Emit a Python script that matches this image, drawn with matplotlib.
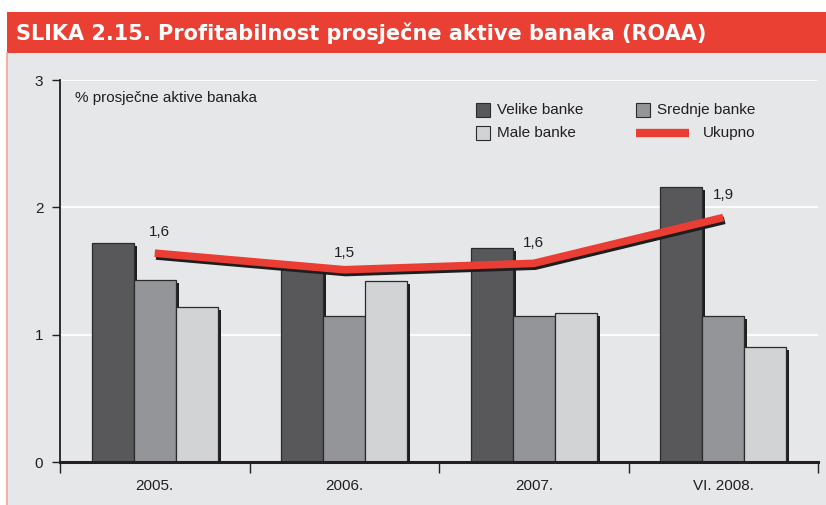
import matplotlib
matplotlib.use("Agg")
import matplotlib.pyplot as plt
import matplotlib.patheffects as pe
from matplotlib.patches import Rectangle
from matplotlib.lines import Line2D
import numpy as np

plt.rcParams['font.family'] = ['Liberation Sans', 'DejaVu Sans']

# ---- data ----
categories = ["2005.", "2006.", "2007.", "VI. 2008."]
velike = [1.72, 1.55, 1.68, 2.16]
srednje = [1.43, 1.15, 1.15, 1.15]
male = [1.22, 1.42, 1.17, 0.90]
ukupno = [1.64, 1.51, 1.56, 1.92]
ukupno_labels = ["1,6", "1,5", "1,6", "1,9"]
series_names = ["Velike banke", "Srednje banke", "Male banke", "Ukupno"]
y_ticks = [0, 1, 2, 3]

col_vel = "#58585a"
col_sred = "#939598"
col_male = "#d1d3d4"
col_red = "#ea3d33"
bg = "#e6e7e9"

W, H = 826, 505
fig = plt.figure(figsize=(W / 100, H / 100), dpi=100)
fig.patch.set_facecolor("white")

# background axes for panel + title bar
bgax = fig.add_axes([0, 0, 1, 1], zorder=-5)
bgax.set_xlim(0, W)
bgax.set_ylim(H, 0)
bgax.axis("off")
bgax.add_patch(Rectangle((7, 53), W - 7, H - 53, facecolor=bg, edgecolor="none"))
bgax.add_patch(Rectangle((7, 12), W - 7, 41, facecolor="#ea3f33", edgecolor="none"))
bgax.plot([7, 7], [53, H], color="#f2a49c", lw=1.2)
bgax.text(16, 33, "SLIKA 2.15. Profitabilnost prosječne aktive banaka (ROAA)",
          color="white", fontsize=15, fontweight="bold", va="center", ha="left",
          family=["DejaVu Sans"])

ax = fig.add_axes([60 / W, 1 - 462 / H, (818 - 60) / W, (462 - 80) / H], zorder=1)
ax.set_facecolor(bg)

x = np.arange(len(categories))
bw = 0.222
shadow = [pe.SimplePatchShadow(offset=(2.2, -2.2), shadow_rgbFace="#1e1e1e", alpha=1.0), pe.Normal()]
for vals, off, col in [(velike, -bw, col_vel), (srednje, 0, col_sred), (male, bw, col_male)]:
    bars = ax.bar(x + off, vals, width=bw, color=col, edgecolor="#2b2b2b", linewidth=0.9, zorder=3)
    for b in bars:
        b.set_path_effects(shadow)

ax.plot(x, ukupno, color=col_red, lw=5.5, solid_capstyle="butt", solid_joinstyle="miter", zorder=5,
        path_effects=[pe.SimpleLineShadow(offset=(1, -2), shadow_color="#1e1e1e", alpha=1.0), pe.Normal()])
label_off = [(3.6, 15), (0, 12), (0, 14.5), (0, 16)]
for xi, yi, lab, o in zip(x, ukupno, ukupno_labels, label_off):
    ax.annotate(lab, (xi, yi), xytext=o, textcoords="offset points", ha="center", va="center",
                fontsize=11, color="#231f20", zorder=6)

ax.set_xlim(-0.5, len(categories) - 0.5)
ax.set_ylim(0, 3)
ax.set_yticks(y_ticks)
ax.set_yticklabels([str(t) for t in y_ticks], fontsize=11, color="#231f20")
for t in y_ticks[1:]:
    ax.axhline(t, color="white", lw=1.3, zorder=1)

ax.set_xticks(x)
ax.set_xticklabels(categories, fontsize=11, color="#231f20")
ax.tick_params(axis="x", length=0, pad=12)
ax.set_xticks(np.arange(len(categories) + 1) - 0.5, minor=True)
ax.tick_params(axis="x", which="minor", length=8, width=1, color="#231f20", direction="out")
ax.tick_params(axis="y", length=6, width=1, color="#231f20", direction="out", pad=6)

for s in ["top", "right"]:
    ax.spines[s].set_visible(False)
ax.spines["left"].set_color("#231f20")
ax.spines["left"].set_linewidth(1.3)
ax.spines["bottom"].set_color("#231f20")
ax.spines["bottom"].set_linewidth(2.2)
ax.spines["bottom"].set_zorder(6)

ax.text(0.02, 0.97, "% prosječne aktive banaka", transform=ax.transAxes,
        fontsize=11, color="#231f20", va="top", ha="left")

# legend (manual)
def fx(px):
    return (px - 60) / (818 - 60)

def fy(py):
    return (462 - py) / (462 - 80)

leg_items = [
    (series_names[0], col_vel, 476, 110),
    (series_names[1], col_sred, 636, 110),
    (series_names[2], col_male, 476, 133),
]
for name, col, px, py in leg_items:
    ax.add_patch(Rectangle((fx(px), fy(py + 7)), fx(px + 14) - fx(px), fy(py - 7) - fy(py + 7),
                           transform=ax.transAxes, facecolor=col, edgecolor="#2b2b2b", lw=0.8,
                           zorder=7, clip_on=False))
    ax.text(fx(px + 21), fy(py), name, transform=ax.transAxes, fontsize=11, color="#231f20",
            va="center", ha="left")
ax.add_line(Line2D([fx(636), fx(689)], [fy(133), fy(133)], transform=ax.transAxes, color=col_red,
                   lw=6, solid_capstyle="butt", zorder=7))
ax.text(fx(703), fy(133), series_names[3], transform=ax.transAxes, fontsize=11, color="#231f20",
        va="center", ha="left")

fig.savefig("out.png", dpi=100)
